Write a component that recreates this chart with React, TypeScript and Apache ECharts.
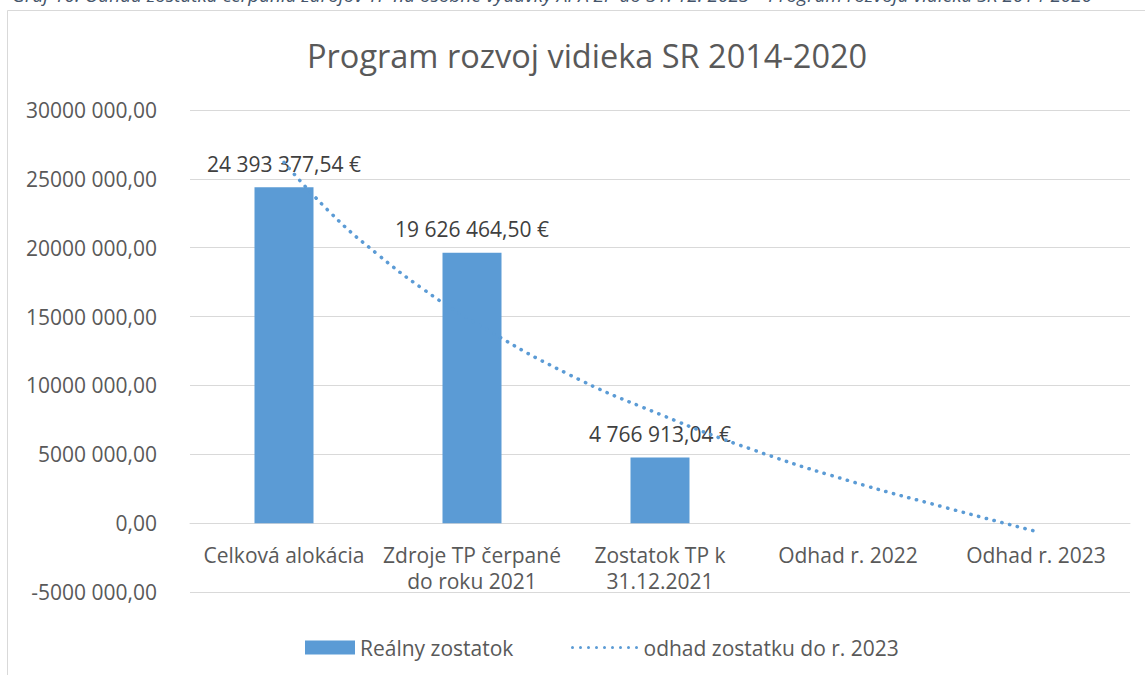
import React, { useEffect, useRef } from "react";
import * as echarts from "echarts";

const caption =
  "Graf 10: Odhad zostatku čerpania zdrojov TP na osobné výdavky APA ŽP do 31. 12. 2023 – Program rozvoja vidieka SR 2014-2020";
const title = "Program rozvoj vidieka SR 2014-2020";
const categories = [
  "Celková alokácia",
  "Zdroje TP čerpané\ndo roku 2021",
  "Zostatok TP k\n31.12.2021",
  "Odhad r. 2022",
  "Odhad r. 2023",
];
const barName = "Reálny zostatok";
const barValues: (number | null)[] = [24393377.54, 19626464.5, 4766913.04, null, null];
const trendName = "odhad zostatku do r. 2023";
// dotted trend line (x = category position 1..5)
const trendX = [1, 1.25, 1.5, 1.75, 2, 2.5, 3, 3.5, 4, 4.5, 5];
const trendY = [26200000, 22500000, 19500000, 16900000, 14700000, 10900000, 7900000, 5300000, 3100000, 1200000, -600000];
const yTicks = { min: -5000000, max: 30000000, interval: 5000000 };

const FONT = "Open Sans";
const BLUE = "#5B9BD5";

function fmtAxis(v: number): string {
  const neg = v < 0;
  const s = Math.abs(Math.round(v)).toString();
  const body = s.length > 3 ? s.slice(0, -3) + " " + s.slice(-3) : s;
  return (neg ? "-" : "") + body + ",00";
}

function fmtEuro(v: number): string {
  const [i, d] = v.toFixed(2).split(".");
  const g = i.replace(/\B(?=(\d{3})+(?!\d))/g, " ");
  return g + "," + d + " €";
}

function dotsIcon(): string {
  let d = "";
  for (let i = 0; i < 9; i++) {
    const x = i * 8;
    d += `M${x},1.5a1.5,1.5 0 1,0 3,0a1.5,1.5 0 1,0 -3,0Z`;
  }
  return "path://" + d;
}

const GRID_TOP = 110;
const GRID_BOTTOM = 83;

export default function App() {
  const ref = useRef<HTMLDivElement>(null);
  useEffect(() => {
    if (!ref.current) return;
    const chart = echarts.init(ref.current, null, { renderer: "svg" });
    const plotH = 675 - GRID_TOP - GRID_BOTTOM;
    const zeroOffset = -(plotH * (0 - yTicks.min)) / (yTicks.max - yTicks.min);
    chart.setOption({
      animation: false,
      backgroundColor: "#ffffff",
      textStyle: { fontFamily: FONT },
      title: {
        text: title,
        left: 302,
        top: 34,
        textStyle: { fontFamily: FONT, fontSize: 32.5, fontWeight: "normal", color: "#595959" },
      },
      graphic: [
        {
          type: "rect",
          shape: { x: 7.5, y: 10.5, width: 1300, height: 800 },
          style: { fill: "none", stroke: "#D9D9D9", lineWidth: 1 },
          silent: true,
        },
        {
          type: "text",
          x: 12,
          y: 4,
          style: {
            text: caption,
            fontFamily: FONT,
            fontStyle: "italic",
            fontSize: 19,
            fill: "#44546A",
            verticalAlign: "bottom",
          },
          silent: true,
        },
      ],
      legend: [
        {
          data: [barName],
          left: 300,
          top: 632,
          icon: "rect",
          itemWidth: 50,
          itemHeight: 14,
          textStyle: { fontFamily: FONT, fontSize: 21, color: "#595959" },
        },
        {
          data: [{ name: trendName, icon: dotsIcon(), itemStyle: { color: BLUE } }],
          left: 566,
          top: 632,
          itemWidth: 68,
          itemHeight: 3,
          textStyle: { fontFamily: FONT, fontSize: 21, color: "#595959" },
        },
      ],
      grid: { left: 190, right: 15, top: GRID_TOP, bottom: GRID_BOTTOM, containLabel: false },
      xAxis: [
        {
          type: "category",
          data: categories,
          offset: zeroOffset,
          axisLine: { show: true, onZero: false, lineStyle: { color: "#D9D9D9" } },
          axisTick: { show: false },
          axisLabel: {
            fontFamily: FONT,
            fontSize: 21,
            color: "#595959",
            margin: 19,
            lineHeight: 26,
            interval: 0,
          },
        },
        {
          type: "value",
          min: 0.5,
          max: 5.5,
          show: false,
        },
      ],
      yAxis: {
        type: "value",
        min: yTicks.min,
        max: yTicks.max,
        interval: yTicks.interval,
        axisLine: { show: false },
        axisTick: { show: false },
        splitLine: { lineStyle: { color: "#D9D9D9", width: 1 } },
        axisLabel: {
          fontFamily: FONT,
          fontSize: 21,
          color: "#595959",
          margin: 33,
          formatter: (v: number) => fmtAxis(v),
        },
      },
      series: [
        {
          name: barName,
          type: "bar",
          xAxisIndex: 0,
          data: barValues,
          barWidth: 59,
          z: 2,
          itemStyle: { color: BLUE },
          label: {
            show: true,
            position: "top",
            distance: 13,
            fontFamily: FONT,
            fontSize: 21,
            color: "#404040",
            formatter: (p: any) => (p.value == null ? "" : fmtEuro(p.value)),
          },
        },
        {
          name: trendName,
          type: "line",
          xAxisIndex: 1,
          data: trendX.map((x, i) => [x, trendY[i]]),
          smooth: true,
          symbol: "none",
          z: 10,
          zlevel: 1,
          itemStyle: { color: BLUE },
          lineStyle: { color: BLUE, width: 3.5, type: [0.3, 7.7], cap: "round" },
        },
      ],
    });
    return () => chart.dispose();
  }, []);
  return (
    <div
      ref={ref}
      style={{ position: "absolute", left: 0, top: 0, width: 1145, height: 675 }}
    />
  );
}
